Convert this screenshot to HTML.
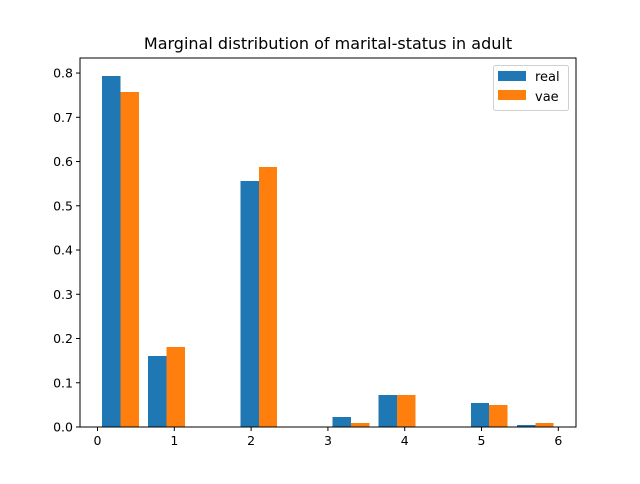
<!DOCTYPE html>
<html><head><meta charset="utf-8"><style>
body{margin:0;background:#fff;font-family:"DejaVu Sans","Liberation Sans",sans-serif}
</style></head><body>
<svg id="chart" width="640" height="480" xmlns="http://www.w3.org/2000/svg">
<rect width="640" height="480" fill="#fff"/>
<text x="328" y="49" text-anchor="middle" font-size="16" fill="#000">Marginal distribution of marital-status in adult</text>
<g id="bars" shape-rendering="crispEdges"></g>
<g id="axes"></g>
<g>
<rect x="493.5" y="65.5" width="75" height="45" rx="2" fill="#fff" stroke="#ccc" opacity="0.9"/>
<rect x="498" y="71" width="28" height="10" fill="#1f77b4"/>
<text x="535" y="81" font-size="13">real</text>
<rect x="498" y="90" width="28" height="10" fill="#ff7f0e"/>
<text x="535" y="101" font-size="13">vae</text>
</g>
</svg>
<script>
const binStarts=[0,0.6,1.2,1.8,2.4,3.0,3.6,4.2,4.8,5.4];
const realValues=[0.793,0.160,0,0.556,0,0.023,0.072,0,0.054,0.004];
const vaeValues=[0.757,0.181,0,0.588,0,0.009,0.072,0,0.050,0.009];
const xTicks=[0,1,2,3,4,5,6];
const yTicks=[0,0.1,0.2,0.3,0.4,0.5,0.6,0.7,0.8];
const binWidth=0.6;
const L=80,R=576,T=58,B=427;
const xMin=-0.228,xMax=6.23,yMin=0,yMax=0.834;
const sx=v=>L+(v-xMin)/(xMax-xMin)*(R-L);
const sy=v=>B-(v-yMin)/(yMax-yMin)*(B-T);
const NS="http://www.w3.org/2000/svg";
const bars=document.getElementById('bars');
function bar(x0,w,v,color,name){
  const r=document.createElementNS(NS,'rect');
  r.setAttribute('x',sx(x0));r.setAttribute('width',sx(x0+w)-sx(x0));
  r.setAttribute('y',sy(v));r.setAttribute('height',sy(0)-sy(v));
  r.setAttribute('fill',color);
  
  
  bars.appendChild(r);
}
const bw=binWidth*0.8/2;
binStarts.forEach((s,i)=>{
  const x0=s+binWidth*0.1;
  if(realValues[i]>0)bar(x0,bw,realValues[i],'#1f77b4','bar-real-'+i);
  if(vaeValues[i]>0)bar(x0+bw,bw,vaeValues[i],'#ff7f0e','bar-vae-'+i);
});
const ax=document.getElementById('axes');
let h=`<rect x="${L}" y="${T}" width="${R-L}" height="${B-T}" fill="none" stroke="#000" stroke-width="1"/>`;
xTicks.forEach(t=>{const x=sx(t);h+=`<line x1="${x}" x2="${x}" y1="${B}" y2="${B+4}" stroke="#000"/><text x="${x}" y="${B+18}" font-size="12.5" text-anchor="middle">${t}</text>`;});
yTicks.forEach(t=>{const y=sy(t);h+=`<line x1="${L-4}" x2="${L}" y1="${y}" y2="${y}" stroke="#000"/><text x="${L-7}" y="${y+4.5}" font-size="12.5" text-anchor="end">${t.toFixed(1)}</text>`;});
ax.innerHTML=h;


</script>
</body></html>
